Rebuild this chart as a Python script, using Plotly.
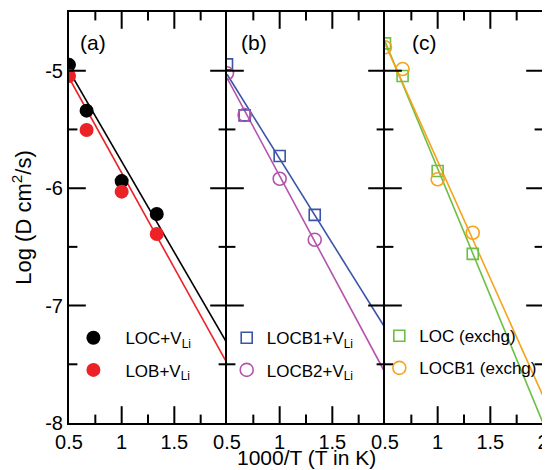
import plotly.graph_objects as go

# ---- data ----
inv_T = [0.5, 0.667, 1.0, 1.333]          # 1000/T
fit_x = [0.5, 2.0]                        # extent of fitted lines

loc_vli = [-4.95, -5.34, -5.94, -6.22]
lob_vli = [-5.045, -5.505, -6.03, -6.39]
locb1_vli = [-4.946, -5.38, -5.726, -6.228]
locb2_vli = [-5.022, -5.377, -5.92, -6.44]
loc_exchg = [-4.767, -5.045, -5.854, -6.56]
locb1_exchg = [-4.80, -4.986, -5.924, -6.38]

fit_loc_vli = [-5.00, -7.32]
fit_lob_vli = [-5.06, -7.49]
fit_locb1_vli = [-5.03, -7.19]
fit_locb2_vli = [-5.06, -7.57]
fit_loc_exchg = [-4.75, -8.0]
fit_locb1_exchg = [-4.77, -7.77]

y_ticks = [-8, -7, -6, -5]
y_ticktext = ["-8", "-7", "-6", "-5"]
y_minor = [-7.5, -6.5, -5.5]
x_ticks_ab = [0.5, 1, 1.5]
x_ticks_c = [0.5, 1, 1.5, 2]
x_ticktext_ab = ["0.5", "1", "1.5"]
x_ticktext_c = ["0.5", "1", "1.5", "2"]
x_minor = [0.75, 1.25, 1.75]

FONT = "Liberation Sans, Arial, Helvetica, sans-serif"
BLACK = "#000000"
RED = "#ec2227"
BLUE = "#3a55a8"
PURPLE = "#b552ad"
GREEN = "#6cbf45"
ORANGE = "#f7a21b"

X_RANGE = [0.5, 2]
Y_RANGE = [-8, -4.5]

fig = go.Figure()

def line(x, y, color, xa, ya):
    fig.add_trace(go.Scatter(x=x, y=y, mode="lines", line=dict(color=color, width=1.6),
                             xaxis=xa, yaxis=ya, showlegend=False, hoverinfo="skip"))

def pts(x, y, name, color, symbol, size, xa, ya, legend):
    if symbol.endswith("-open"):
        marker = dict(color=color, symbol=symbol, size=size, line=dict(color=color, width=1.6))
    else:
        marker = dict(color=color, symbol=symbol, size=size, line=dict(width=0))
    fig.add_trace(go.Scatter(x=x, y=y, mode="markers", name=name, marker=marker,
                             xaxis=xa, yaxis=ya, legend=legend, legendgroup=name, showlegend=True))

# panel (a)
line(fit_x, fit_loc_vli, BLACK, "x", "y")
line(fit_x, fit_lob_vli, RED, "x", "y")
pts(inv_T, loc_vli, "LOC+V<sub>Li</sub>", BLACK, "circle", 14, "x", "y", "legend")
pts(inv_T, lob_vli, "LOB+V<sub>Li</sub>", RED, "circle", 14, "x", "y", "legend")

# panel (b)
line(fit_x, fit_locb1_vli, BLUE, "x2", "y2")
line(fit_x, fit_locb2_vli, PURPLE, "x2", "y2")
pts(inv_T, locb1_vli, "LOCB1+V<sub>Li</sub>", BLUE, "square-open", 11, "x2", "y2", "legend2")
pts(inv_T, locb2_vli, "LOCB2+V<sub>Li</sub>", PURPLE, "circle-open", 13, "x2", "y2", "legend2")

# panel (c)
line(fit_x, fit_loc_exchg, GREEN, "x3", "y3")
line(fit_x, fit_locb1_exchg, ORANGE, "x3", "y3")
pts(inv_T, loc_exchg, "LOC (exchg)", GREEN, "square-open", 11, "x3", "y3", "legend3")
pts(inv_T, locb1_exchg, "LOCB1 (exchg)", ORANGE, "circle-open", 13, "x3", "y3", "legend3")

# inward tick marks: line markers centred on the frame, clipped to the plot area so
# only the inner half (12px major, 6px minor) shows
x_inner = [v for v in x_ticks_c if X_RANGE[0] < v < X_RANGE[1]]
y_inner = [v for v in y_ticks if Y_RANGE[0] < v < Y_RANGE[1]]
for xa, ya in [("x", "y"), ("x2", "y2"), ("x3", "y3")]:
    for vals, size in [(x_inner, 24), (x_minor, 12)]:
        fig.add_trace(go.Scatter(
            x=vals + vals, y=[Y_RANGE[0]] * len(vals) + [Y_RANGE[1]] * len(vals),
            mode="markers", cliponaxis=True, xaxis=xa, yaxis=ya, showlegend=False, hoverinfo="skip",
            marker=dict(symbol="line-ns", size=size, color=BLACK, line=dict(color=BLACK, width=2))))
    for vals, size in [(y_inner, 24), (y_minor, 12)]:
        fig.add_trace(go.Scatter(
            x=[X_RANGE[0]] * len(vals) + [X_RANGE[1]] * len(vals), y=vals + vals,
            mode="markers", cliponaxis=True, xaxis=xa, yaxis=ya, showlegend=False, hoverinfo="skip",
            marker=dict(symbol="line-ew", size=size, color=BLACK, line=dict(color=BLACK, width=2))))

tickfont = dict(family=FONT, size=20, color="black")

def xaxis(domain, vals, text, anchor):
    return dict(domain=domain, anchor=anchor, range=X_RANGE, showline=True, linewidth=2,
                linecolor="black", mirror=True, ticks="", tickmode="array", tickvals=vals,
                ticktext=text, tickfont=tickfont, showgrid=False, zeroline=False)

def yaxis(anchor, labels, mirror, **kw):
    d = dict(anchor=anchor, range=Y_RANGE, showline=True, linewidth=2, linecolor="black",
             mirror=mirror, ticks="", tickmode="array", tickvals=y_ticks, ticktext=y_ticktext,
             tickfont=tickfont, showticklabels=labels, showgrid=False, zeroline=False)
    d.update(kw)
    return d

legend_common = dict(bgcolor="rgba(0,0,0,0)", borderwidth=0, font=dict(family=FONT, size=17, color="black"),
                     xanchor="left", yanchor="top", tracegroupgap=7)

ann_font = dict(family=FONT, size=21, color="black")

# the page adds an 8px body margin, so the figure is 8px smaller than the window
fig.update_layout(
    template="none",
    width=542, height=462,
    margin=dict(l=61, r=7, t=4, b=47),
    paper_bgcolor="white", plot_bgcolor="white",
    font=dict(family=FONT, color="black"),
    xaxis=xaxis([0, 1/3], x_ticks_ab, x_ticktext_ab, "y"),
    xaxis2=xaxis([1/3, 2/3], x_ticks_ab, x_ticktext_ab, "y2"),
    xaxis3=xaxis([2/3, 1], x_ticks_c, x_ticktext_c, "y3"),
    yaxis=yaxis("x", True, False, title=dict(text="Log (D cm<sup>2</sup>/s)",
                                             font=dict(family=FONT, size=22, color="black"), standoff=12)),
    yaxis2=yaxis("x2", False, False, matches="y"),
    yaxis3=yaxis("x3", False, True, matches="y"),
    legend=dict(legend_common, x=-0.016, y=0.25, itemwidth=54),
    legend2=dict(legend_common, x=0.3327, y=0.25, itemwidth=30),
    legend3=dict(legend_common, x=0.6547, y=0.255, itemwidth=30),
    annotations=[
        dict(text="(a)", xref="x domain", yref="y domain", x=0.149, y=0.925, showarrow=False,
             xanchor="center", yanchor="middle", font=ann_font),
        dict(text="(b)", xref="x2 domain", yref="y2 domain", x=0.174, y=0.925, showarrow=False,
             xanchor="center", yanchor="middle", font=ann_font),
        dict(text="(c)", xref="x3 domain", yref="y3 domain", x=0.25, y=0.925, showarrow=False,
             xanchor="center", yanchor="middle", font=ann_font),
        dict(text="1000/T (T in K)", xref="paper", yref="paper", x=0.5, y=-0.085, showarrow=False,
             xanchor="center", yanchor="middle", font=dict(family=FONT, size=21, color="black")),
    ],
)

fig.write_html("out.html")
